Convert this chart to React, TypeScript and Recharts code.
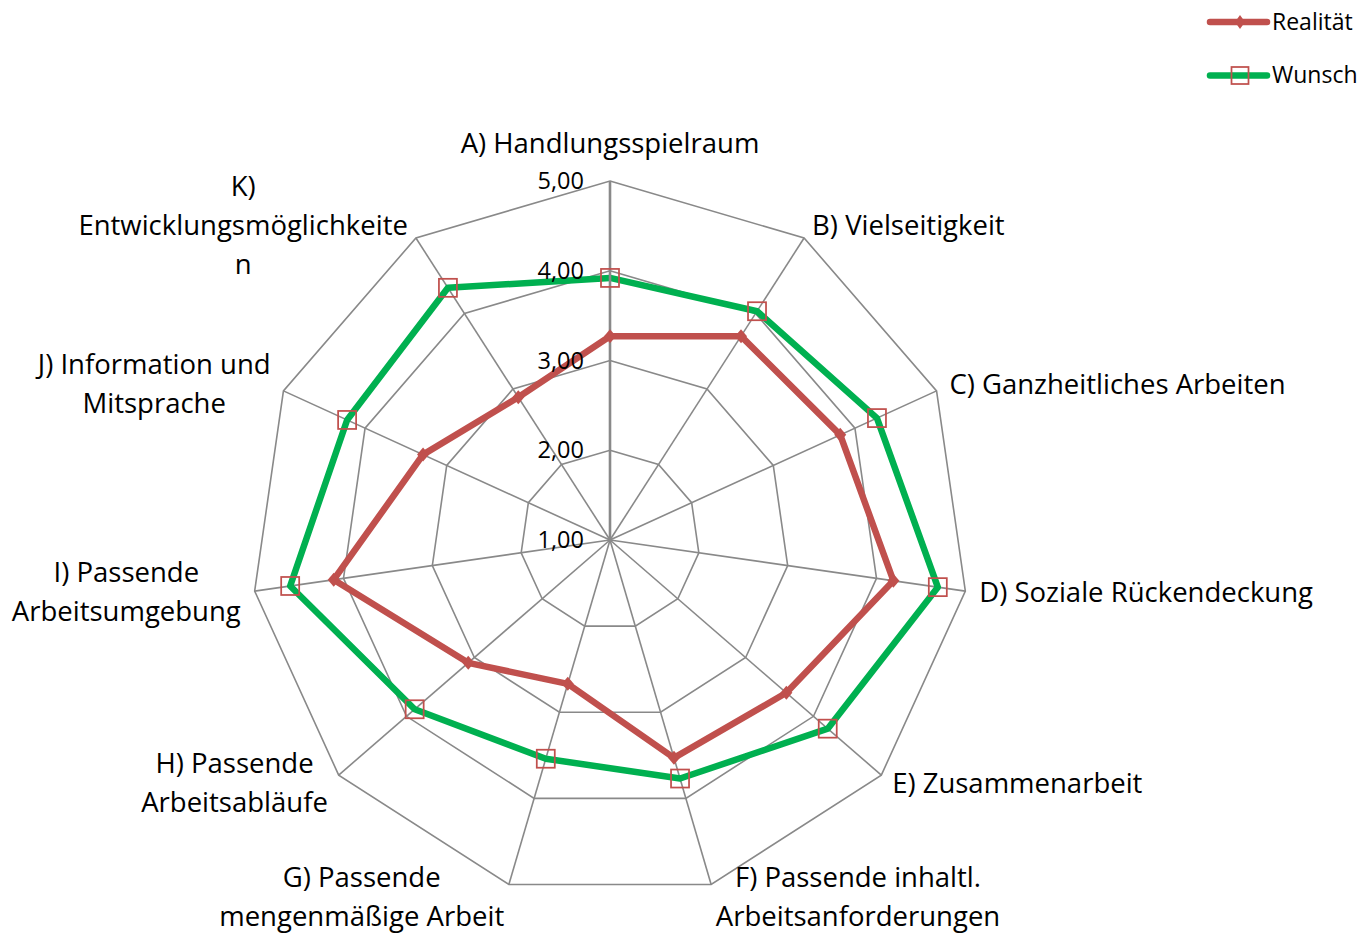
import React from "react";
import {
  Legend,
  PolarAngleAxis,
  PolarGrid,
  PolarRadiusAxis,
  Radar,
  RadarChart,
} from "recharts";

const categories = [
  "A) Handlungsspielraum",
  "B) Vielseitigkeit",
  "C) Ganzheitliches Arbeiten",
  "D) Soziale Rückendeckung",
  "E) Zusammenarbeit",
  "F) Passende inhaltl. Arbeitsanforderungen",
  "G) Passende mengenmäßige Arbeit",
  "H) Passende Arbeitsabläufe",
  "I) Passende Arbeitsumgebung",
  "J) Information und Mitsprache",
  "K) Entwicklungsmöglichkeiten",
];

// wrapped the way the original shows them
const categoryLines = [
  ["A) Handlungsspielraum"],
  ["B) Vielseitigkeit"],
  ["C) Ganzheitliches Arbeiten"],
  ["D) Soziale Rückendeckung"],
  ["E) Zusammenarbeit"],
  ["F) Passende inhaltl.", "Arbeitsanforderungen"],
  ["G) Passende", "mengenmäßige Arbeit"],
  ["H) Passende", "Arbeitsabläufe"],
  ["I) Passende", "Arbeitsumgebung"],
  ["J) Information und", "Mitsprache"],
  ["K)", "Entwicklungsmöglichkeite", "n"],
];

const realitaet = [3.27, 3.7, 3.82, 4.19, 3.6, 3.53, 2.67, 3.09, 4.11, 3.29, 2.89];
const wunsch = [3.92, 4.03, 4.27, 4.69, 4.21, 3.77, 3.54, 3.88, 4.6, 4.22, 4.34];

const radiusTicks = [1, 2, 3, 4, 5];

const data = categories.map((name, i) => ({
  name,
  realitaet: realitaet[i],
  wunsch: wunsch[i],
}));

const CX = 610;
const CY = 540;
const R = 359;
const RED = "#C0504D";
const GREEN = "#00B050";
const GRID = "#898989";
const FONT = "'Open Sans', sans-serif";
const LABEL_SIZE = 27.5;
const LINE_H = 39;

let ctx: CanvasRenderingContext2D | null = null;
function textWidth(t: string, size: number) {
  if (!ctx) ctx = document.createElement("canvas").getContext("2d");
  if (!ctx) return t.length * size * 0.55;
  ctx.font = `${size}px 'Open Sans'`;
  return ctx.measureText(t).width;
}

function AngleTick(props: any) {
  const idx = categories.indexOf(props.payload.value);
  const lines = categoryLines[idx] || [props.payload.value];
  const deg = props.payload.coordinate ?? 90 - (idx * 360) / categories.length;
  const rad = (deg * Math.PI) / 180;
  const cos = Math.cos(rad);
  const sin = Math.sin(rad);
  const vx = CX + R * cos;
  const vy = CY - R * sin;
  const w = Math.max(...lines.map((l) => textWidth(l, LABEL_SIZE)));
  const blockH = lines.length * LINE_H;
  let centerX = vx;
  let centerY = vy - 14 * sin - 2;
  if (Math.abs(cos) < 0.05) {
    centerY = vy - 19 - blockH / 2;
  } else {
    const gap = 1 + 13 * Math.abs(cos);
    centerX = cos > 0 ? vx + gap + w / 2 : vx - gap - w / 2;
  }
  const top = centerY - blockH / 2;
  return (
    <g>
      {lines.map((l, i) => (
        <text
          key={i}
          x={centerX}
          y={top + LINE_H * (i + 0.5)}
          textAnchor="middle"
          dominantBaseline="central"
          fontFamily={FONT}
          fontSize={LABEL_SIZE}
          fill="#000"
        >
          {l}
        </text>
      ))}
    </g>
  );
}

function RadiusTick(props: any) {
  const v = Number(props.payload.value);
  return (
    <text
      x={props.x - 26}
      y={props.y - 1}
      textAnchor="end"
      dominantBaseline="central"
      fontFamily={FONT}
      fontSize={23.5}
      fill="#000"
    >
      {v.toFixed(2).replace(".", ",")}
    </text>
  );
}

function DiamondDot(props: any) {
  const { cx, cy } = props;
  if (cx == null || cy == null) return <g key={props.index} />;
  return (
    <path
      key={props.index}
      d={`M${cx},${cy - 7} L${cx + 6},${cy} L${cx},${cy + 7} L${cx - 6},${cy} Z`}
      fill={RED}
    />
  );
}

function SquareDot(props: any) {
  const { cx, cy } = props;
  if (cx == null || cy == null) return <g key={props.index} />;
  return (
    <rect
      key={props.index}
      x={cx - 9}
      y={cy - 9}
      width={18}
      height={18}
      fill="none"
      stroke={RED}
      strokeWidth={1.75}
    />
  );
}

function LegendBox() {
  const rows = [
    { label: "Realität", color: RED, marker: "diamond", y: 22 },
    { label: "Wunsch", color: GREEN, marker: "square", y: 75.5 },
  ];
  return (
    <svg width={157} height={100} style={{ display: "block" }}>
      {rows.map((r) => (
        <g key={r.label}>
          <line
            x1={4}
            y1={r.y}
            x2={61}
            y2={r.y}
            stroke={r.color}
            strokeWidth={6.5}
            strokeLinecap="round"
          />
          {r.marker === "diamond" ? (
            <path
              d={`M34,${r.y - 7} L39,${r.y} L34,${r.y + 7} L29,${r.y} Z`}
              fill={RED}
            />
          ) : (
            <rect
              x={25.5}
              y={r.y - 8.5}
              width={17}
              height={17}
              fill="none"
              stroke={RED}
              strokeWidth={1.75}
            />
          )}
          <text
            x={66}
            y={r.y - 1.5}
            dominantBaseline="central"
            fontFamily={FONT}
            fontSize={23}
            fill="#000"
          >
            {r.label}
          </text>
        </g>
      ))}
    </svg>
  );
}

export default function App() {
  return (
    <div style={{ position: "absolute", left: 0, top: 0, width: 1363, height: 937, background: "#fff" }}>
      <RadarChart
        width={1363}
        height={937}
        data={data}
        cx={CX}
        cy={CY}
        outerRadius={R}
        margin={{ top: 0, right: 0, bottom: 0, left: 0 }}
      >
        <PolarGrid gridType="polygon" stroke={GRID} strokeWidth={1.6} />
        <PolarAngleAxis dataKey="name" tick={AngleTick} tickLine={false} axisLine={false} />
        <PolarRadiusAxis
          angle={90}
          type="number"
          domain={[1, 5]}
          ticks={radiusTicks as any}
          tickCount={5}
          tick={RadiusTick}
          tickLine={false}
          axisLine={{ stroke: GRID, strokeWidth: 2.6 }}
        />
        <Radar
          name="Realität"
          dataKey="realitaet"
          stroke={RED}
          strokeWidth={6.5}
          strokeLinejoin="round"
          fill="none"
          fillOpacity={0}
          dot={DiamondDot}
          isAnimationActive={false}
        />
        <Radar
          name="Wunsch"
          dataKey="wunsch"
          stroke={GREEN}
          strokeWidth={6.5}
          strokeLinejoin="round"
          fill="none"
          fillOpacity={0}
          dot={SquareDot}
          isAnimationActive={false}
        />
        <Legend
          content={LegendBox}
          wrapperStyle={{ position: "absolute", left: 1206, top: 0, width: 157 }}
        />
      </RadarChart>
    </div>
  );
}
